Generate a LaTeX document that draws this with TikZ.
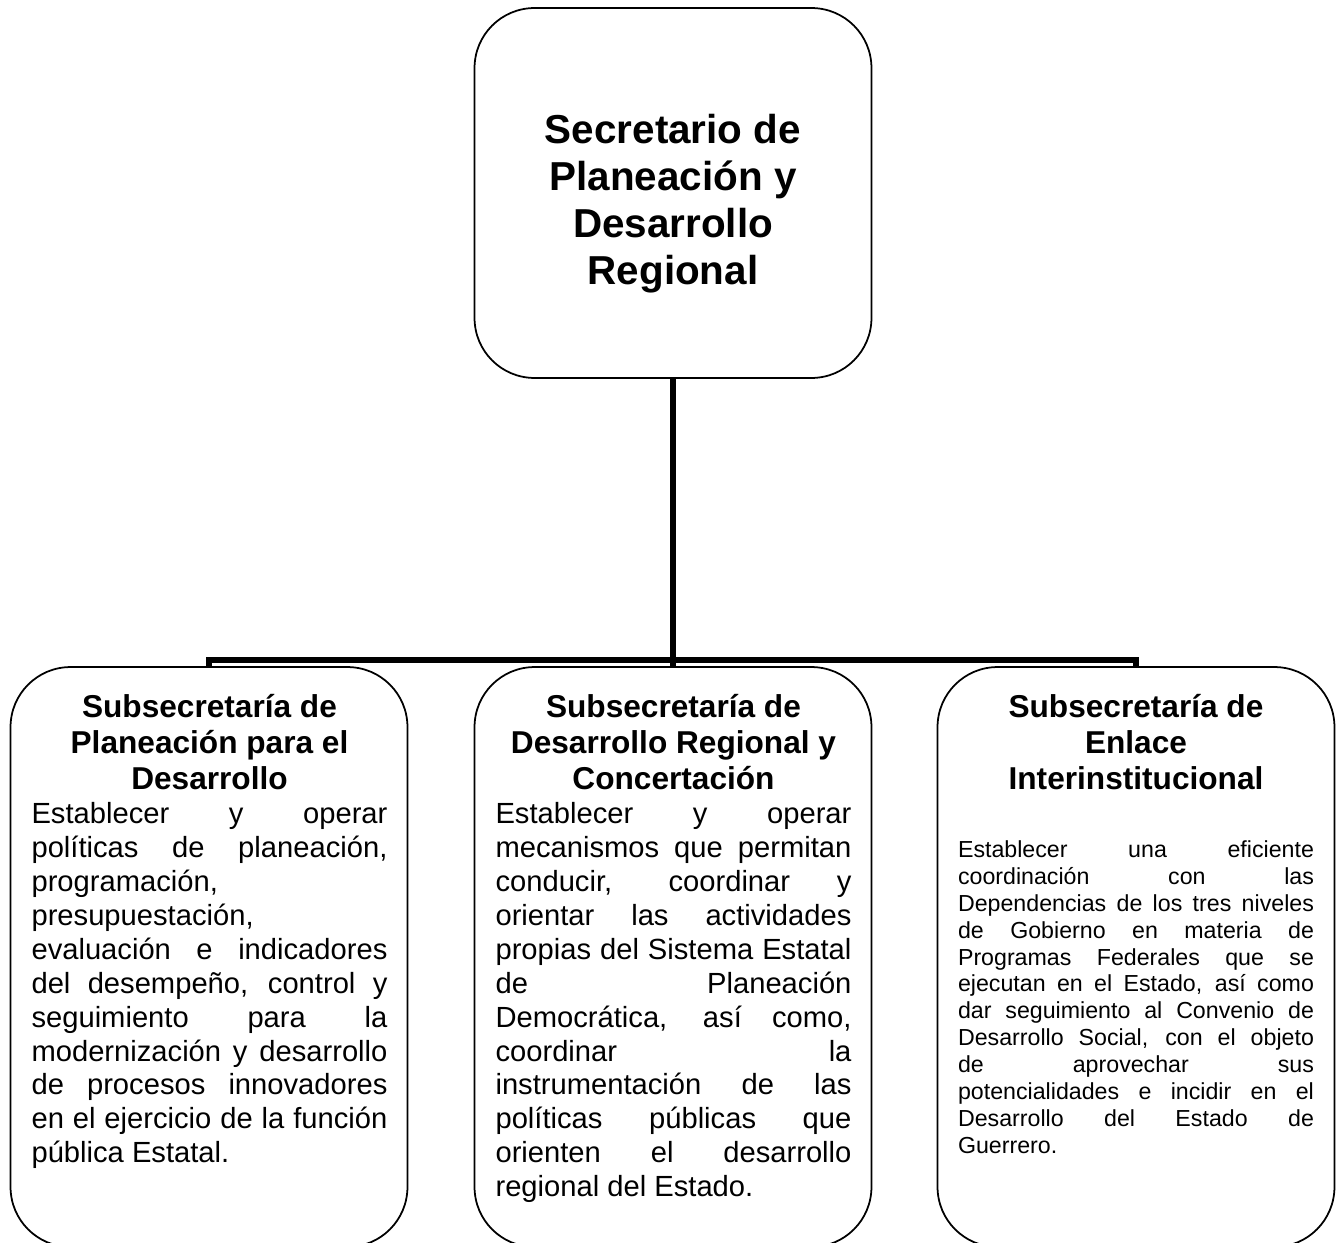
\documentclass[tikz,border=0pt]{standalone}
\usepackage{fontspec}
\setmainfont{Liberation Sans}
\usepackage{tikz}

\tolerance=10000
\hbadness=10000
\hyphenpenalty=10000
\newcommand{\titulosub}{\centering\fontsize{18}{20.7}\selectfont\bfseries}
\newcommand{\cuerpo}{\fontsize{16.6}{19.3}\selectfont}
\newcommand{\cuerpochico}{\fontsize{13.2}{15.3}\selectfont}

\begin{document}
\begin{tikzpicture}[x=0.02cm,y=-0.02cm]
	\tikzset{caja/.style={draw=black, line width=1pt, rounded corners=1.2cm, minimum width=7.94cm},
		texto/.style={inner sep=0pt, anchor=base},
		rama/.style={line width=3pt}}
	\clip (0,0) rectangle (1336,1243);

	% secretario
	\node[caja, minimum height=7.4cm] (secretario) at (673,193) {};
	\node[texto] (secretarioTxt) at (673,144) {\parbox[t]{7cm}{\centering\fontsize{23}{26.6}\selectfont\bfseries Secretario de\\ Planeación y\\ Desarrollo\\ Regional}};

	% subsecretarias
	\node[caja, minimum height=11.6cm] (planeacion) at (209,957) {};
	\node[caja, minimum height=11.6cm] (desarrollo) at (673,957) {};
	\node[caja, minimum height=11.6cm] (enlace) at (1136,957) {};

	\node[texto] (planeacionTxt) at (209.5,717) {\parbox[t]{7.12cm}{{\titulosub Subsecretaría de\\ Planeación para el\\ Desarrollo\par}\cuerpo Establecer y operar\linebreak políticas de planeación,\linebreak programación,\newline presupuestación,\newline evaluación e indicadores\linebreak del desempeño, control y\linebreak seguimiento para la\linebreak modernización y desarrollo\linebreak de procesos innovadores\linebreak en el ejercicio de la función\linebreak pública Estatal.}};
	\node[texto] (desarrolloTxt) at (673.5,717) {\parbox[t]{7.12cm}{{\titulosub Subsecretaría de\\ Desarrollo Regional y\\ Concertación\par}\cuerpo Establecer y operar\linebreak mecanismos que permitan\linebreak conducir, coordinar y\linebreak orientar las actividades\linebreak propias del Sistema Estatal\linebreak de Planeación\linebreak Democrática, así como,\linebreak coordinar la\linebreak instrumentación de las\linebreak políticas públicas que\linebreak orienten el desarrollo\linebreak regional del Estado.}};
	\node[texto] (enlaceTxt) at (1136,717) {\parbox[t]{7.12cm}{{\titulosub Subsecretaría de\\ Enlace\\ Interinstitucional\par}\vspace{23.3pt}\cuerpochico Establecer una eficiente\linebreak coordinación con las\linebreak Dependencias de los tres niveles\linebreak de Gobierno en materia de\linebreak Programas Federales que se\linebreak ejecutan en el Estado, así como\linebreak dar seguimiento al Convenio de\linebreak Desarrollo Social, con el objeto\linebreak de aprovechar sus\linebreak potencialidades e incidir en el\linebreak Desarrollo del Estado de\linebreak Guerrero.}};

	% lineas
	\coordinate (nudo) at (673,660);
	\draw[rama] (secretario.south) -- (nudo);
	\draw[rama] (nudo) -| (planeacion.north);
	\draw[rama] (nudo) -- (desarrollo.north);
	\draw[rama] (nudo) -| (enlace.north);
\end{tikzpicture}
\end{document}
